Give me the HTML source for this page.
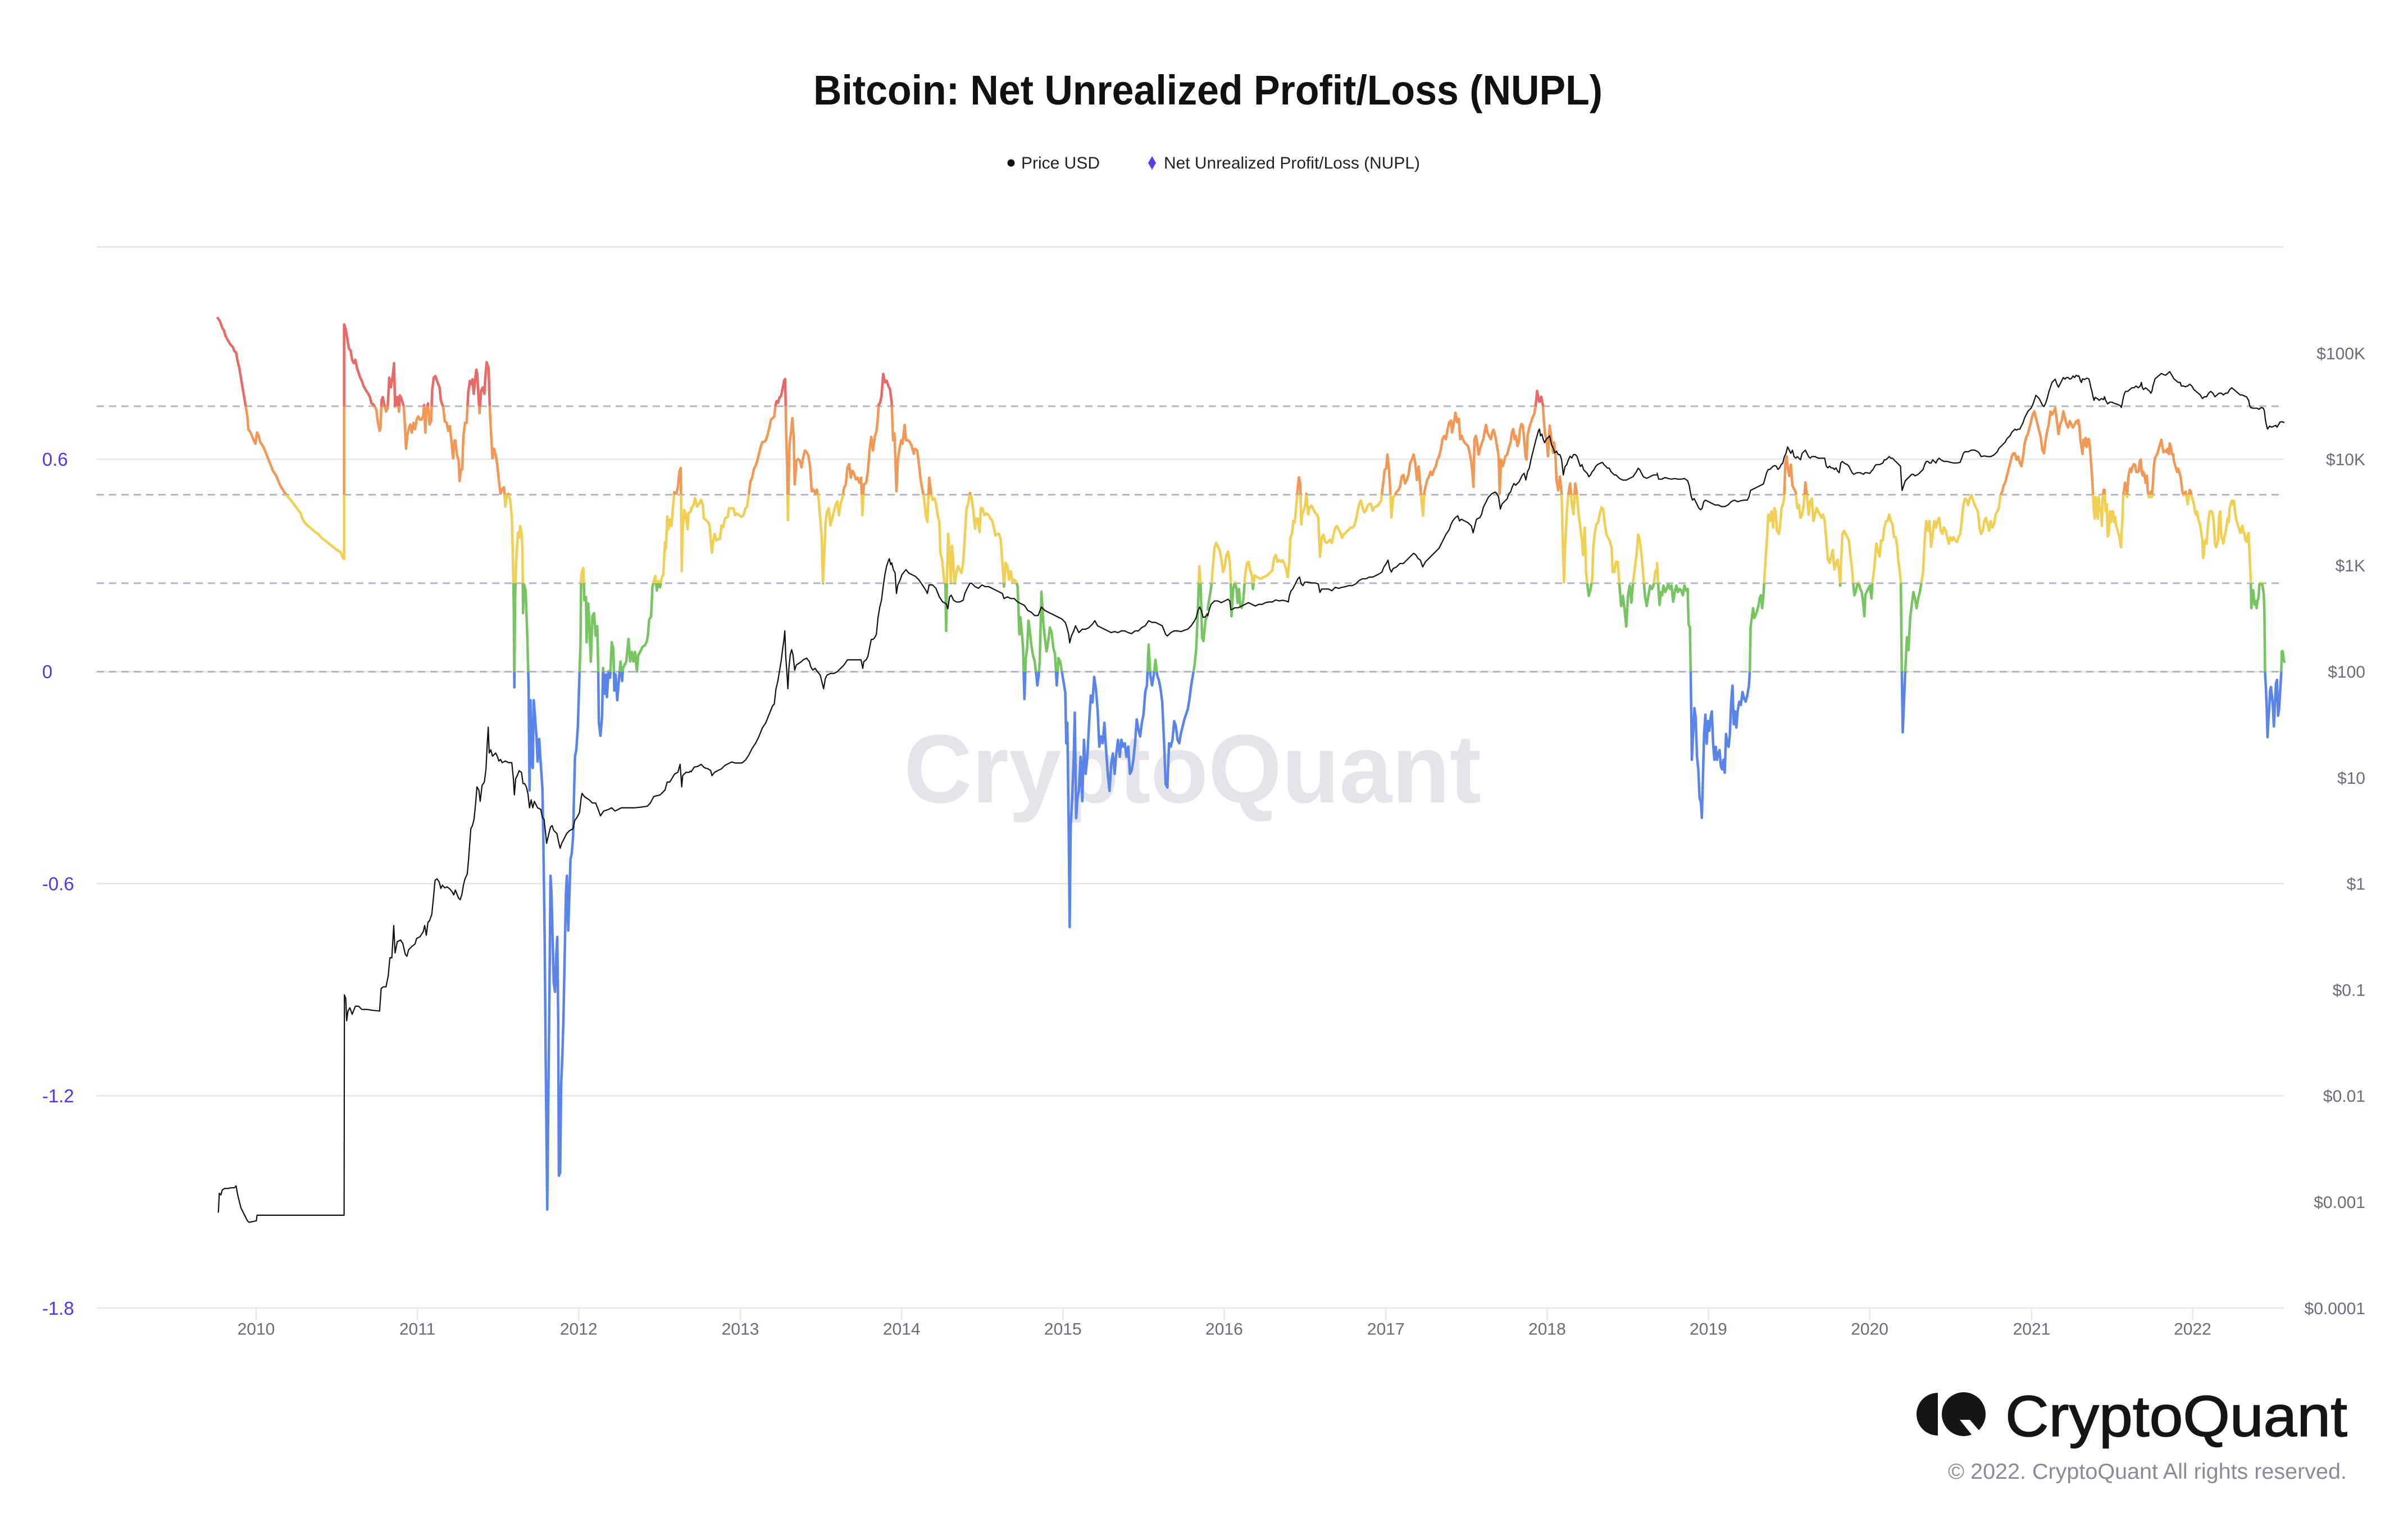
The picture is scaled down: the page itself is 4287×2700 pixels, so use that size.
<!DOCTYPE html>
<html><head><meta charset="utf-8"><style>
html,body{margin:0;padding:0;background:#fff;}
svg{display:block;}
text{font-family:"Liberation Sans",sans-serif;}
</style></head><body>
<svg width="4287" height="2700" viewBox="0 0 4287 2700" xmlns="http://www.w3.org/2000/svg">
<defs>
<clipPath id="cr" clipPathUnits="userSpaceOnUse"><rect x="0" y="0" width="4287" height="723"/></clipPath>
<clipPath id="co" clipPathUnits="userSpaceOnUse"><rect x="0" y="723" width="4287" height="157.5"/></clipPath>
<clipPath id="cy" clipPathUnits="userSpaceOnUse"><rect x="0" y="880.5" width="4287" height="157.5"/></clipPath>
<clipPath id="cg" clipPathUnits="userSpaceOnUse"><rect x="0" y="1038" width="4287" height="157.5"/></clipPath>
<clipPath id="cb" clipPathUnits="userSpaceOnUse"><rect x="0" y="1195.5" width="4287" height="1300"/></clipPath>
<g id="n" fill="none" stroke-linejoin="round" stroke-linecap="round">
<polyline vector-effect="non-scaling-stroke" transform="translate(360,500) scale(0.5741)" points="48,115 55,125 62,145 68,155 72,170 80,185 88,198 95,205 100,218 105,222 110,250 115,270 120,300 125,330 130,360 135,390 140,420 143,460 150,470 158,490 165,505 170,470 175,480 180,500 190,515 200,540 210,565 220,590 230,605 240,630 250,648 262,665 275,680 290,700 305,720 312,740 320,752 335,765 350,778 360,785 370,797 385,808 400,820 415,832 430,842 436,858 440,862 440,135 445,150 450,180 455,210 460,215 465,245 470,255 475,245 480,270 485,285 490,300 495,310 500,325 508,340 515,350 520,360 525,380 530,382 535,390 540,400 545,440 550,465 553,455 556,370 560,360 565,385 570,405 575,395 580,300 585,330 590,300 595,255 598,390 602,380 605,360 610,405 613,355 618,365 625,390 628,440 632,520 636,480 640,460 645,445 650,470 655,440 660,460 665,430 670,420 675,430 680,430 685,420 688,385 692,470 695,400 700,380 705,445 710,435 713,340 718,300 723,295 730,315 736,330 740,370 745,385 748,395 752,435 758,440 763,465 768,450 772,490 778,550 782,495 785,495 790,540 795,555 798,620 802,585 806,585 810,480 815,440 820,440 825,345 830,310 835,320 838,305 842,350 846,310 850,275 853,290 855,330 860,410 865,340 870,330 875,350 878,300 882,252 888,270 892,400 895,460 900,550 905,520 910,540 915,570 920,620 925,660 930,645 936,640 940,700 945,665 950,660 955,680 960,730 963,840 966,1000 968,1260 970,1000 973,880 976,830 979,780 983,795 986,760 990,780 993,830 995,1030 998,940 1003,960 1008,1100 1012,1250 1015,1580 1018,1300 1022,1500 1025,1510 1028,1300 1032,1350 1037,1420 1040,1490 1045,1420 1050,1500 1055,1574 1058,1744 1062,2044 1065,2394 1068,2694 1070,2879 1073,2564 1076,2294 1080,1844 1083,1894 1086,2014 1090,2174 1094,2204 1098,2094 1101,2034 1104,2294 1106,2774 1110,2764 1113,2494 1117,2394 1120,2294 1124,2094 1128,1894 1131,1844 1135,2014 1139,1894 1142,1794 1146,1774 1150,1724 1153,1594 1156,1474 1160,1454 1165,1380 1170,1215 1173,1130 1175,920 1178,900 1182,890 1185,990 1190,980 1192,1120 1197,1000 1200,1050 1205,1180 1210,1040 1215,1030 1220,1100 1225,1070 1228,1200 1230,1370 1235,1410 1240,1350 1243,1200 1248,1280 1252,1220 1255,1290 1260,1210 1265,1230 1270,1120 1275,1140 1278,1270 1282,1220 1287,1300 1292,1240 1297,1180 1302,1240 1305,1200 1310,1190 1315,1180 1322,1110 1327,1180 1332,1150 1337,1180 1342,1150 1348,1210 1352,1160 1358,1150 1365,1135 1372,1130 1378,1120 1382,1100 1386,1050 1392,1040 1396,950 1400,930 1405,915 1410,960 1415,930 1420,950 1425,920 1430,910 1435,810 1438,830 1442,730 1446,770 1450,740 1455,760 1460,700 1464,655 1470,660 1475,640 1480,590 1484,580 1487,900 1490,770 1495,710 1500,725 1505,770 1508,720 1515,715 1520,700"/>
<polyline vector-effect="non-scaling-stroke" transform="translate(1230,620) scale(0.6059)" points="0,470 8,460 12,440 18,465 25,455 30,445 35,460 38,500 45,505 50,510 55,520 58,560 62,600 65,570 70,545 75,565 80,560 85,560 90,520 95,525 100,500 108,495 112,470 118,470 125,470 130,490 135,485 142,490 148,495 155,490 160,470 165,465 170,430 175,390 180,380 185,355 190,345 195,330 200,310 205,290 210,275 215,275 220,270 225,255 230,235 235,210 240,205 245,200 248,170 252,155 256,160 260,145 265,140 270,115 274,95 277,90 280,250 283,350 285,505 288,350 290,280 295,240 298,205 302,260 305,400 310,330 315,325 320,330 325,350 330,320 335,300 340,305 345,315 350,345 355,420 360,415 365,425 370,415 375,440 380,500 384,550 388,690 392,600 396,510 400,480 405,470 410,520 415,500 420,480 425,460 430,450 435,490 440,455 445,440 450,410 455,400 460,350 465,340 470,380 475,360 480,370 485,385 490,380 495,395 500,380 504,490 508,400 515,395 520,360 525,300 530,260 535,300 540,260 545,245 548,220 552,165 556,160 560,140 565,75 570,100 575,95 580,110 585,120 590,160 594,270 598,250 600,300 604,420 608,330 612,300 618,270 622,280 628,225 632,270 638,270 643,275 648,285 655,310 658,295 665,300 670,340 675,385 680,415 685,440 690,490 695,510 700,380 705,420 710,445 715,440 720,455 725,490 730,510 733,600 738,620 742,660 745,690 748,690 750,830 752,690 756,545 760,610 764,690 767,580 770,610 775,690 780,660 785,640 790,650 795,660 800,630 805,550 810,470 815,455 820,425 825,440 830,480 835,530 838,500 843,500 848,540 852,470 857,470 862,490 868,485 875,490 880,500 885,505 890,525 895,550 900,545 905,545 910,560 915,625 920,700 925,630 930,640 935,680 940,655 945,685 950,680 955,685 960,700 963,780 965,840 968,790 972,830 976,880 980,1030 984,910 988,880 992,800 996,830 1000,870 1005,900 1010,920 1015,960 1018,990 1022,960 1025,920 1030,715 1035,800 1040,850 1045,890 1050,860 1055,820 1060,835 1065,880 1070,900 1075,990 1080,910 1085,920 1090,950 1095,980 1100,1010 1103,1160 1106,1100 1110,1400 1113,1700 1116,1400 1120,1330 1125,1200 1128,1070 1132,1380 1136,1320 1140,1300 1145,1200 1150,1330 1155,1150 1160,1250 1165,1200 1170,1100 1175,1020 1180,1040 1185,965 1190,1000 1195,1060 1200,1170 1205,1140 1210,1160 1215,1100 1220,1180 1225,1250 1230,1300 1235,1220 1240,1190 1245,1250 1250,1190 1255,1150 1260,1200 1265,1150 1270,1170 1275,1160 1280,1200 1285,1170 1290,1250 1295,1240 1300,1210 1305,1160 1310,1090 1315,1120 1320,1140 1325,1100 1330,1075 1335,1010 1340,990 1345,870 1350,960 1355,990 1360,960 1365,915 1370,960 1375,975 1380,1000 1385,1040 1390,1150 1395,1280 1400,1290 1405,1160 1410,1170 1415,1150 1420,1095 1425,1110 1430,1150 1435,1160 1440,1130 1445,1110 1450,1090 1455,1075 1460,1060 1465,1030 1470,990 1475,960 1480,930 1485,880 1490,760 1494,640 1498,700 1502,850 1506,860 1512,800 1518,780"/>
<polyline vector-effect="non-scaling-stroke" transform="translate(2150,600) scale(0.6059)" points="0,800 3,780 8,750 12,720 15,680 20,620 25,605 30,615 35,625 40,650 45,690 50,675 55,640 60,630 65,660 68,720 70,820 75,740 80,720 85,740 88,780 92,740 96,790 100,795 105,770 110,700 115,665 120,660 125,685 130,700 133,740 138,700 145,705 155,710 165,705 175,700 185,690 190,685 195,650 200,640 205,660 210,655 215,660 220,655 225,665 230,680 235,705 240,660 243,590 248,575 252,540 256,545 260,500 265,440 268,412 272,430 275,550 278,520 282,510 287,490 290,460 295,520 300,500 305,495 310,505 315,515 320,520 325,530 328,600 330,645 335,590 340,580 345,600 350,605 355,600 360,595 365,605 370,580 375,560 380,555 385,565 390,575 395,590 400,580 410,570 420,560 425,560 430,555 435,540 440,515 445,490 450,480 455,500 460,515 465,510 470,495 475,490 480,490 485,510 490,500 500,495 510,480 513,450 517,420 520,390 525,385 528,345 532,380 536,440 540,530 545,470 550,465 555,455 560,450 565,440 570,410 575,405 580,430 585,420 590,405 595,370 600,360 605,345 610,370 615,420 620,380 625,440 630,500 633,525 636,460 640,440 645,420 650,410 655,395 660,405 665,390 670,380 675,360 680,350 685,330 690,300 695,290 700,300 705,270 710,250 715,245 718,280 722,260 728,222 733,250 738,240 742,300 747,290 750,300 755,310 760,315 765,320 770,340 775,370 778,400 781,440 784,300 788,290 792,310 796,345 800,330 806,310 810,300 815,270 818,258 822,280 827,290 832,300 836,280 840,272 845,290 850,320 855,350 858,460 862,360 866,380 870,370 875,350 880,345 885,325 890,310 894,280 898,270 902,300 906,290 910,320 914,310 918,270 922,255 926,260 930,300 934,350 937,360 940,290 945,265 950,250 955,235 960,225 965,190 968,158 972,180 975,190 980,175 985,200 988,250 992,290 996,300 1000,350 1005,260 1010,300 1015,340 1018,310 1022,350 1025,420 1030,450 1035,410 1040,460 1044,620 1047,720 1050,620 1055,520 1060,460 1065,430 1070,490 1075,520 1080,430 1085,460 1090,520 1095,560 1100,600 1103,640 1108,560 1112,690 1116,730 1120,760 1125,740 1130,710 1133,620 1137,580 1142,550 1147,545 1152,520 1157,500 1162,505 1167,550 1172,580 1177,590 1182,600 1187,620 1190,690 1195,690 1200,660 1205,660 1210,730 1215,790 1220,760 1225,800 1230,850 1235,760 1240,730 1245,780 1250,720 1255,680 1260,640 1265,580 1270,600 1275,640 1280,700 1285,760 1290,790 1295,760 1300,730 1305,740 1310,730 1315,690 1320,680"/>
<polyline vector-effect="non-scaling-stroke" transform="translate(2950,560) scale(0.5741)" points="0,770 5,860 8,900 12,860 16,870 20,840 25,860 30,850 35,835 40,850 45,840 50,890 55,860 60,840 65,860 70,850 75,855 80,870 85,840 90,855 95,850 98,960 102,970 105,1150 108,1380 112,1300 116,1220 120,1250 124,1370 128,1410 132,1500 136,1510 139,1560 142,1450 146,1300 150,1240 154,1330 158,1260 162,1290 166,1250 170,1230 174,1330 178,1380 182,1340 186,1380 190,1360 194,1350 198,1400 202,1410 206,1380 210,1420 214,1300 218,1330 222,1340 226,1300 230,1200 234,1150 238,1270 242,1230 246,1280 250,1230 255,1200 260,1210 265,1170 270,1190 275,1200 280,1180 285,1150 288,1100 290,970 294,940 298,910 302,940 306,930 310,920 315,900 318,880 322,870 326,910 330,870 334,800 338,740 342,680 345,620 350,640 355,610 360,660 364,600 368,610 372,670 378,680 382,650 386,600 390,590 394,570 398,460 402,440 405,470 410,500 415,465 420,530 425,540 430,550 435,600 440,590 445,630 450,620 455,590 460,520 465,560 470,620 475,580 480,570 485,640 490,620 495,600 500,610 505,620 510,630 515,620 520,640 525,700 530,760 535,770 540,750 545,730 550,790 555,770 560,760 565,800 568,840 570,780 575,680 580,670 585,680 590,690 595,700 600,750 605,790 608,830 612,870 616,860 620,840 625,830 630,850 635,860 640,900 643,935 646,870 650,860 655,850 660,840 665,880 668,830 672,800 676,760 680,710 685,730 690,750 695,700 700,700 705,660 710,640 715,640 720,620 725,640 730,650 735,690 740,690 745,720 748,760 752,790 756,830 759,1100 762,1295 766,1200 770,1100 775,1000 780,1040 785,940 790,900 795,860 800,880 805,910 810,880 815,860 820,830 825,800 830,700 835,640 840,670 845,640 850,720 855,680 860,640 865,660 870,640 875,630 880,670 885,680 890,660 895,670 900,690 905,710 910,690 915,700 920,690 925,700 930,705 935,690 940,680 945,640 950,590 955,570 960,575 965,590 970,570 975,560 980,575 985,590 990,600 995,610 1000,660 1005,680 1010,670 1015,640 1020,630 1025,650 1030,670 1035,640 1040,660 1045,650 1050,620 1055,610 1060,600 1065,560 1070,550 1075,530 1080,520 1085,500 1090,480 1095,460 1100,440 1105,430 1110,430 1115,450 1120,440 1125,460 1130,470 1135,440 1140,400 1145,380 1150,370 1155,350 1160,330 1165,310 1170,300 1175,320 1180,340 1185,360 1190,380 1195,420 1200,430 1205,390 1210,360 1215,340 1220,300 1225,310 1230,300 1235,290 1240,330 1245,370 1250,340 1255,330 1260,300 1265,320 1270,340 1275,350 1280,330 1285,340 1290,350 1295,340 1300,330 1307,340"/>
<polyline vector-effect="non-scaling-stroke" transform="translate(3700,400) scale(0.3744,0.6378)" points="0,545 5,560 10,600 15,620 20,640 25,600 30,615 35,595 40,620 45,600 50,598 55,620 60,660 65,700 70,750 73,790 78,820 83,760 88,800 93,820 97,760 102,800 107,790 112,840 115,770 120,740 125,740 130,800 135,780 140,870 145,860 150,800 155,830 160,800 165,800 170,830 175,815 180,840 185,850 190,860 195,870 200,890 203,900 206,860 210,820 214,750 218,740 222,720 227,730 232,760 237,710 242,690 247,680 252,690 258,675 264,668 270,670 276,690 282,690 288,688 292,660 297,655 302,690 306,700 310,690 315,700 320,720 326,700 330,740 335,760 340,760 345,745 350,760 355,720 360,670 365,650 370,645 375,640 380,630 385,620 390,610 395,600 400,620 405,635 410,630 415,630 420,635 425,625 430,640 435,610 440,620 445,640 450,640 455,660 460,670 465,680 470,690 475,680 480,690 485,700 490,720 495,745 500,755 505,750 510,745 515,760 520,780 525,760 530,740 535,745 540,760 545,770 550,780 555,800 560,810 565,800 570,820 575,830 580,840 585,860 590,880 593,930 597,920 600,890 605,880 610,890 615,850 620,820 625,800 630,800 635,800 640,810 645,840 650,890 655,900 660,890 665,880 670,810 675,800 680,870 685,880 690,890 695,870 700,860 705,840 710,820 715,830 720,790 725,780 730,770 735,780 740,770 745,800 750,820 755,830 760,840 765,850 770,860 775,850 780,840 785,860 790,860 795,880 800,885 805,870 810,860 815,930 820,990 823,1070 827,1030 832,1020 838,1060 843,1050 848,1070 852,1050 857,1040 862,1000 867,1000 872,1000 877,1010 882,1030 885,1080 888,1250 892,1290 896,1350 900,1430 904,1380 908,1350 912,1300 916,1290 920,1310 925,1340 930,1400 935,1340 940,1280 945,1270 950,1370 955,1350 960,1300 965,1250 968,1190 972,1190 976,1210 980,1220"/>
</g>
</defs>

<!-- title & legend -->
<text x="1448" y="186" font-size="74" font-weight="bold" fill="#111" textLength="1405" lengthAdjust="spacingAndGlyphs">Bitcoin: Net Unrealized Profit/Loss (NUPL)</text>
<circle cx="1800" cy="290" r="6.5" fill="#111"/>
<text x="1818" y="300" font-size="30" fill="#222" textLength="140" lengthAdjust="spacingAndGlyphs">Price USD</text>
<polygon points="2051,278 2058,290 2051,302 2044,290" fill="#5040ef"/>
<text x="2072" y="300" font-size="30" fill="#222" textLength="456" lengthAdjust="spacingAndGlyphs">Net Unrealized Profit/Loss (NUPL)</text>

<!-- gridlines -->
<g stroke="#e6e6ec" stroke-width="2.5">
<line x1="172" y1="439.5" x2="4066" y2="439.5"/>
<line x1="172" y1="817.3" x2="4066" y2="817.3"/>
<line x1="172" y1="1195.5" x2="4066" y2="1195.5"/>
<line x1="172" y1="1572.7" x2="4066" y2="1572.7"/>
<line x1="172" y1="1950.4" x2="4066" y2="1950.4"/>
<line x1="172" y1="2328" x2="4066" y2="2328"/>
<line x1="456" y1="2328" x2="456" y2="2350"/>
<line x1="743.1" y1="2328" x2="743.1" y2="2350"/>
<line x1="1030.2" y1="2328" x2="1030.2" y2="2350"/>
<line x1="1318.1" y1="2328" x2="1318.1" y2="2350"/>
<line x1="1605.2" y1="2328" x2="1605.2" y2="2350"/>
<line x1="1892.3" y1="2328" x2="1892.3" y2="2350"/>
<line x1="2179.4" y1="2328" x2="2179.4" y2="2350"/>
<line x1="2467.3" y1="2328" x2="2467.3" y2="2350"/>
<line x1="2754.4" y1="2328" x2="2754.4" y2="2350"/>
<line x1="3041.5" y1="2328" x2="3041.5" y2="2350"/>
<line x1="3328.6" y1="2328" x2="3328.6" y2="2350"/>
<line x1="3617" y1="2328" x2="3617" y2="2350"/>
<line x1="3903.5" y1="2328" x2="3903.5" y2="2350"/>
</g>
<g stroke="#b6b6c4" stroke-width="3" stroke-dasharray="13 9">
<line x1="172" y1="723" x2="4066" y2="723"/>
<line x1="172" y1="880.5" x2="4066" y2="880.5"/>
<line x1="172" y1="1038" x2="4066" y2="1038"/>
<line x1="172" y1="1195.5" x2="4066" y2="1195.5"/>
</g>

<!-- watermark -->
<text x="1609" y="1428" font-size="173" font-weight="bold" fill="#e4e4eb" textLength="1028" lengthAdjust="spacingAndGlyphs">CryptoQuant</text>

<!-- axis labels -->
<g font-size="33" fill="#4b38e8">
<text x="75" y="829">0.6</text>
<text x="75" y="1207">0</text>
<text x="75" y="1584.5">-0.6</text>
<text x="75" y="1962">-1.2</text>
<text x="75" y="2340">-1.8</text>
</g>
<g font-size="30" fill="#6b6b7c" text-anchor="end">
<text x="4211" y="639.5">$100K</text>
<text x="4211" y="828">$10K</text>
<text x="4211" y="1017">$1K</text>
<text x="4211" y="1206">$100</text>
<text x="4211" y="1395">$10</text>
<text x="4211" y="1583.5">$1</text>
<text x="4211" y="1772.5">$0.1</text>
<text x="4211" y="1961">$0.01</text>
<text x="4211" y="2150">$0.001</text>
<text x="4211" y="2339">$0.0001</text>
</g>
<g font-size="30" fill="#6b6b7c" text-anchor="middle">
<text x="456" y="2375.5">2010</text>
<text x="743.1" y="2375.5">2011</text>
<text x="1030.2" y="2375.5">2012</text>
<text x="1318.1" y="2375.5">2013</text>
<text x="1605.2" y="2375.5">2014</text>
<text x="1892.3" y="2375.5">2015</text>
<text x="2179.4" y="2375.5">2016</text>
<text x="2467.3" y="2375.5">2017</text>
<text x="2754.4" y="2375.5">2018</text>
<text x="3041.5" y="2375.5">2019</text>
<text x="3328.6" y="2375.5">2020</text>
<text x="3617" y="2375.5">2021</text>
<text x="3903.5" y="2375.5">2022</text>
</g>

<!-- NUPL zones -->
<use href="#n" stroke="#e76a67" stroke-width="4.5" clip-path="url(#cr)"/>
<use href="#n" stroke="#f29856" stroke-width="4.5" clip-path="url(#co)"/>
<use href="#n" stroke="#efd055" stroke-width="4.5" clip-path="url(#cy)"/>
<use href="#n" stroke="#77c462" stroke-width="4.5" clip-path="url(#cg)"/>
<use href="#n" stroke="#5a84ea" stroke-width="4.5" clip-path="url(#cb)"/>

<!-- Price -->
<g fill="none" stroke="#111" stroke-width="2.2" stroke-linejoin="round">
<polyline vector-effect="non-scaling-stroke" transform="translate(360,1300) scale(0.5741)" points="50,1495 53,1435 58,1440 62,1425 70,1420 80,1420 90,1418 100,1418 105,1412 110,1440 120,1480 130,1500 140,1520 145,1525 160,1522 168,1520 170,1503 440,1503 441,820 445,830 448,900 452,870 458,860 465,880 475,855 485,855 495,865 510,865 530,868 550,870 555,800 562,795 570,795 577,760 582,705 588,705 594,605 598,690 605,655 615,650 622,660 630,695 635,700 640,680 650,670 660,662 665,645 675,640 685,625 690,605 695,635 700,595 705,590 712,570 717,520 722,465 728,460 735,470 740,490 745,480 752,488 760,485 768,492 775,500 780,510 785,495 795,520 800,525 805,510 810,480 815,460 822,445 826,400 830,345 833,305 838,295 843,275 848,225 852,175 858,185 862,220 868,170 875,160 880,120 884,40 887,-10 890,70 895,60 900,80 910,70 915,80 920,95 925,90 930,100 940,95 950,100 960,100 965,150 968,200 972,150 977,140 983,125 990,130 995,165 1000,165 1005,175 1010,195 1015,240 1020,215 1025,240 1030,220 1040,240 1050,245 1055,270 1060,275 1065,320 1068,350 1075,320 1080,300 1085,295 1090,310 1100,320 1105,345 1110,365 1115,350 1120,340 1130,320 1140,310 1150,305 1155,280 1162,270 1170,255 1175,210 1178,195 1185,205 1192,210 1200,215 1210,225 1220,225 1228,245 1235,265 1245,250 1260,245 1270,240 1280,250 1290,245 1300,240 1320,240 1340,240 1360,238 1380,235 1390,225 1400,205 1420,200 1435,185 1442,160 1450,160 1465,135 1475,130 1482,105 1487,175 1490,140 1500,130 1510,130 1515,125"/>
<polyline vector-effect="non-scaling-stroke" transform="translate(1230,620) scale(0.6059)" points="0,1245 10,1230 20,1228 30,1222 40,1232 50,1235 58,1240 62,1255 70,1245 80,1240 90,1235 100,1225 110,1220 120,1215 130,1218 140,1218 150,1218 160,1210 170,1195 180,1175 190,1160 200,1140 210,1115 220,1100 230,1075 240,1050 245,1045 250,1000 255,980 260,950 265,920 270,880 273,860 276,830 279,910 282,950 285,1000 288,940 292,900 296,885 300,900 305,945 310,930 318,925 325,920 330,915 340,910 348,920 352,935 358,945 365,940 372,950 380,960 385,980 390,1000 395,970 400,960 410,955 420,955 430,950 440,940 450,930 460,915 470,915 480,915 490,915 500,915 505,940 508,920 515,915 520,905 525,880 530,855 535,855 540,850 545,840 550,790 555,760 560,740 565,700 570,665 575,640 580,625 583,618 587,635 590,630 595,650 600,660 604,720 608,695 615,680 620,665 628,655 632,650 640,660 650,665 660,670 670,680 680,695 690,710 695,720 700,695 710,695 720,705 730,730 740,745 750,750 755,765 760,730 765,725 772,740 780,745 790,745 800,740 805,720 812,705 820,690 825,690 835,700 845,705 855,695 865,700 875,700 885,705 895,710 905,715 915,720 920,735 930,730 940,735 950,735 960,745 970,750 980,755 990,770 1000,775 1010,785 1020,785 1030,760 1040,770 1050,775 1060,780 1070,785 1080,790 1090,795 1100,805 1105,820 1110,840 1113,865 1118,845 1125,830 1130,815 1140,835 1150,825 1160,825 1170,820 1180,810 1187,800 1195,815 1205,820 1215,825 1225,830 1235,835 1245,832 1255,835 1265,830 1275,830 1285,835 1295,838 1305,830 1315,830 1325,820 1335,815 1345,800 1355,805 1365,805 1375,810 1385,815 1395,840 1400,845 1410,835 1420,830 1430,830 1440,832 1450,828 1460,825 1470,815 1480,800 1485,790 1490,770 1495,760 1500,770 1505,790 1510,790 1518,780"/>
<polyline vector-effect="non-scaling-stroke" transform="translate(2150,600) scale(0.6059)" points="0,820 5,800 10,785 20,775 30,775 40,780 50,775 60,770 65,775 68,800 72,800 80,795 90,795 100,790 110,785 120,780 130,785 140,790 150,785 160,785 170,780 180,778 190,778 200,772 210,775 220,773 230,775 237,778 240,760 245,745 250,740 255,730 260,720 265,710 270,705 275,725 280,730 285,720 295,720 305,722 315,722 325,725 330,750 335,740 345,740 355,740 365,745 375,735 385,738 395,735 405,733 415,730 425,730 435,725 445,715 455,710 465,710 475,705 485,705 495,700 505,695 512,690 518,675 525,665 530,655 535,680 540,690 545,680 555,675 565,665 575,665 585,655 595,645 605,635 612,640 618,650 625,655 632,675 640,660 650,650 660,640 670,630 680,620 690,600 700,580 710,565 715,550 720,540 728,530 735,525 740,540 745,535 755,540 765,545 775,555 780,575 785,555 790,535 800,530 805,520 810,500 815,490 820,480 825,470 835,460 845,455 850,460 855,470 860,505 865,490 875,480 880,475 885,460 890,455 895,440 900,430 905,435 915,425 920,415 925,405 930,400 935,420 940,395 945,385 950,360 955,340 960,320 965,300 968,290 972,275 975,270 978,290 982,285 986,300 990,310 995,300 1000,295 1005,290 1010,315 1015,325 1020,340 1025,335 1030,345 1035,345 1040,360 1045,405 1050,380 1055,375 1060,360 1065,350 1070,355 1075,345 1080,345 1085,350 1090,365 1095,380 1100,375 1105,390 1110,395 1115,400 1120,410 1125,405 1130,395 1135,390 1140,380 1145,375 1150,372 1155,370 1160,368 1165,375 1170,380 1175,385 1180,385 1185,395 1190,400 1195,405 1200,405 1210,415 1220,420 1230,420 1240,415 1250,410 1260,395 1265,385 1270,390 1275,400 1280,410 1290,415 1300,410 1310,405 1320,405"/>
<polyline vector-effect="non-scaling-stroke" transform="translate(2950,560) scale(0.5741)" points="0,490 5,510 15,510 25,505 35,508 45,510 55,508 65,510 75,510 85,508 95,515 100,530 105,560 110,575 115,570 120,580 125,590 130,600 135,605 140,600 145,580 150,575 160,580 170,585 180,590 190,590 200,595 210,595 220,590 230,580 240,575 250,580 260,577 270,575 280,575 285,565 290,545 300,540 310,535 320,530 330,525 340,490 345,480 350,480 355,475 360,470 365,468 370,470 375,480 380,475 385,465 390,460 395,440 400,430 405,410 410,420 415,430 420,420 425,440 430,445 435,440 440,445 445,450 450,430 455,425 460,420 465,430 470,440 475,445 480,440 490,440 500,445 510,445 520,445 525,470 530,475 535,470 540,475 545,475 550,480 555,475 560,485 565,490 570,460 575,455 580,460 590,465 595,470 600,480 605,490 610,495 620,490 630,490 640,495 645,490 650,490 660,492 665,485 670,480 675,470 680,465 690,465 700,460 705,450 710,450 715,445 720,440 725,445 730,445 735,450 740,455 745,460 750,465 755,470 758,520 760,545 765,530 770,515 775,510 780,505 785,500 790,495 795,495 800,500 810,495 815,490 820,485 825,480 830,465 835,455 840,455 845,460 850,460 855,450 860,455 865,460 870,450 875,445 880,450 890,455 900,455 910,458 920,460 930,460 940,458 945,445 950,430 955,425 965,425 975,420 985,420 995,425 1000,430 1005,440 1015,438 1025,440 1035,440 1045,435 1055,425 1060,415 1065,410 1070,405 1075,400 1080,395 1085,385 1090,380 1095,375 1100,365 1105,360 1110,355 1115,358 1120,355 1125,355 1130,345 1135,335 1140,320 1145,310 1150,300 1155,295 1160,290 1165,280 1170,265 1175,250 1180,255 1185,260 1190,270 1195,280 1200,285 1205,275 1210,260 1215,240 1220,225 1225,210 1230,205 1235,200 1240,215 1245,225 1250,215 1255,205 1260,195 1265,200 1270,195 1275,195 1280,200 1285,198 1290,190 1295,195 1300,188 1307,192"/>
<polyline vector-effect="non-scaling-stroke" transform="translate(3700,400) scale(0.3744,0.6378)" points="0,420 5,425 10,435 15,440 20,430 30,432 40,428 50,430 55,440 60,455 65,465 70,480 75,490 80,482 90,485 100,490 110,485 120,488 125,480 130,490 140,500 150,495 160,495 170,498 180,500 190,502 200,505 205,510 210,495 215,480 220,470 225,465 235,465 245,460 255,455 265,455 275,450 285,455 295,450 300,440 305,455 310,460 320,455 330,460 340,465 345,470 350,465 355,450 360,440 365,430 375,425 385,420 395,415 405,418 415,420 425,415 435,410 445,420 455,430 465,435 475,440 485,440 490,450 500,450 510,452 520,450 530,445 540,450 550,460 560,465 570,470 580,475 590,485 600,480 610,480 620,470 630,465 640,470 650,480 660,475 670,470 680,470 690,475 700,470 710,470 720,460 730,455 740,460 750,465 760,470 770,475 780,475 790,478 800,480 810,490 815,505 820,510 830,512 840,512 850,512 860,515 870,510 880,512 885,520 890,545 895,560 900,570 910,562 920,565 930,562 940,560 945,565 950,560 960,550 970,550 980,552"/>
</g>

<!-- logo -->
<path d="M3450,2479 A38,38 0 0,0 3450,2555 Z" fill="#151515"/>
<circle cx="3496" cy="2517" r="39" fill="#151515"/>
<polygon points="3489,2527 3507,2527 3537,2562 3517,2562" fill="#fff"/>
<text x="3570" y="2556" font-size="103" fill="#151515" stroke="#151515" stroke-width="1.5" textLength="609" lengthAdjust="spacingAndGlyphs">CryptoQuant</text>
<text x="3468" y="2632" font-size="39" fill="#8a8a99" textLength="710" lengthAdjust="spacingAndGlyphs">© 2022. CryptoQuant All rights reserved.</text>
</svg>
</body></html>
